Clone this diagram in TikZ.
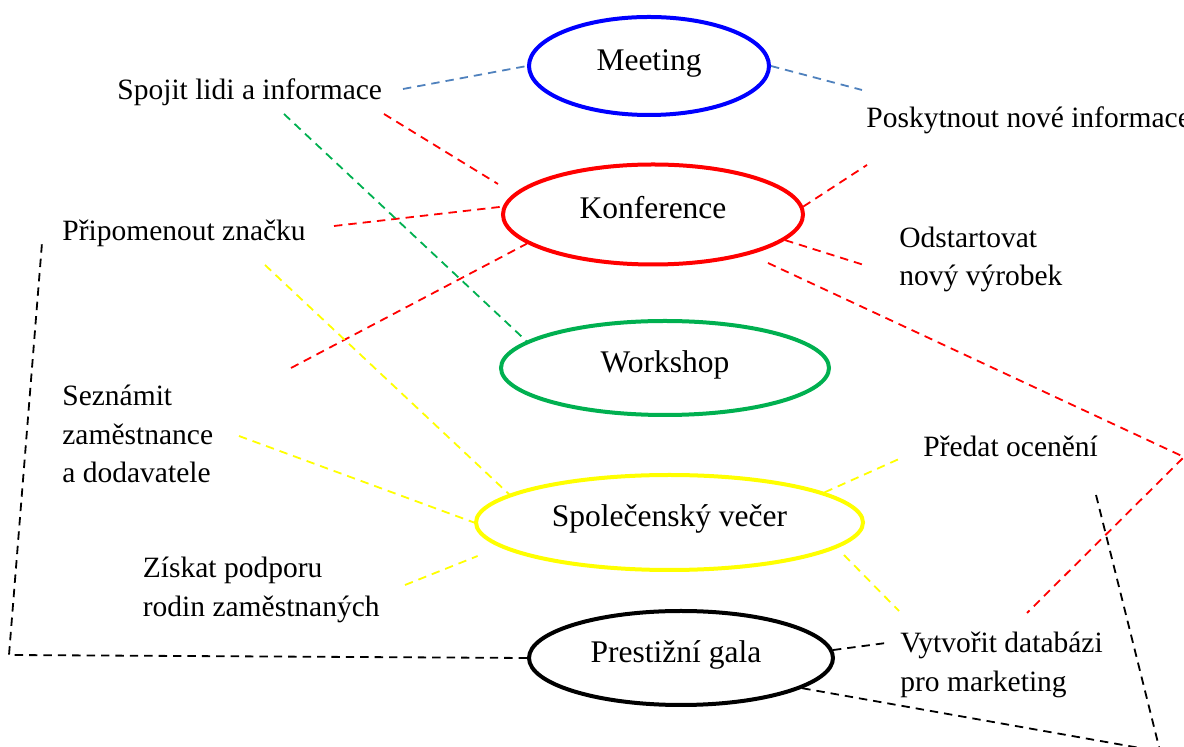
\documentclass[tikz,border=0pt]{standalone}
\usepackage{fontspec}
\setmainfont{Liberation Serif}
\usetikzlibrary{shapes.geometric}
\definecolor{lineblue}{HTML}{4F81BD}
\definecolor{wgreen}{HTML}{00B050}
\definecolor{ylw}{HTML}{FFFF00}
\begin{document}
\begin{tikzpicture}[x=0.5pt,y=-0.5pt,
  evt/.style={ellipse, draw, line width=2pt, font=\fontsize{15.75}{19}\selectfont,
    text height=11pt, text depth=6.8pt, inner sep=0pt},
  lbl/.style={font=\fontsize{14.75}{19.3}\selectfont, anchor=base west, inner sep=0pt, align=left},
  con/.style={line width=0.9pt, dash pattern=on 4.2pt off 3pt},
]
\useasboundingbox (0,0) rectangle (1184,747);
\clip (0,0) rectangle (1184,747);

% events
\node[evt, draw=blue, minimum width=120pt, minimum height=49pt] (meet) at (649,66) {Meeting};
\node[evt, draw=red, minimum width=150pt, minimum height=50pt] (konf) at (653,214.5) {Konference};
\node[evt, draw=wgreen, minimum width=164pt, minimum height=47pt] (work) at (665,368) {Workshop};
\node[evt, draw=ylw, minimum width=193.5pt, minimum height=47.5pt] (spol) at (669.5,522.5) {Společenský večer};
\node[evt, draw=black, minimum width=152pt, minimum height=47pt] (gala) at (681,658) {\hspace*{-5pt}Prestižní gala};

% labels (anchor = baseline of the last line)
\node[lbl] (spojit) at (117,100) {Spojit lidi a informace};
\node[lbl] (posk) at (866,128) {Poskytnout nové informace};
\node[lbl] (pripo) at (62,240.5) {Připomenout značku};
\node[lbl] (odst) at (899,286) {Odstartovat\\nový výrobek};
\node[lbl] (sezn) at (62,483) {Seznámit\\zaměstnance\\a dodavatele};
\node[lbl] (ziskat) at (142.5,616.5) {Získat podporu\\rodin zaměstnaných};
\node[lbl] (predat) at (923,456.7) {Předat ocenění};
\node[lbl] (vytv) at (900,691.5) {Vytvořit databázi\\pro marketing};

% free ends
\coordinate (p1) at (403,89);
\coordinate (p2) at (862,90);
\coordinate (r3a) at (384,114);
\coordinate (r3b) at (498,184);
\coordinate (r4) at (334,226);
\coordinate (r5) at (291,368);
\coordinate (r6) at (867,165);
\coordinate (r7) at (864,265);
\coordinate (r8a) at (768,263);
\coordinate (r8b) at (1184,457);
\coordinate (r8c) at (1027,613);
\coordinate (g9) at (284,114);
\coordinate (y10) at (265,265);
\coordinate (y11) at (239,436);
\coordinate (y12a) at (405,585);
\coordinate (y12b) at (477.6,556);
\coordinate (y13) at (899,459);
\coordinate (y14a) at (844,555);
\coordinate (y14b) at (899,611);
\coordinate (k15a) at (9,655);
\coordinate (k15b) at (42,243);
\coordinate (k16) at (886,643);
\coordinate (k17) at (1140,748);
\coordinate (k18a) at (1096,495);
\coordinate (k18b) at (1159,747);

% connectors
\draw[con, lineblue] (p1) -- (meet.west);
\draw[con, lineblue] (meet.east) -- (p2);

\draw[con, red] (r3a) -- (r3b);
\draw[con, red] (r4) -- (konf.177);
\draw[con, red] (r5) -- (konf.193);
\draw[con, red] (konf.3) -- (r6);
\draw[con, red] (konf.-11) -- (r7);
\draw[con, red] (r8a) -- (r8b) -- (r8c);

\draw[con, wgreen] (g9) -- (work.169);

\draw[con, ylw] (y10) -- (spol.170);
\draw[con, ylw] (y11) -- (spol.west);
\draw[con, ylw] (y12a) -- (y12b);
\draw[con, ylw] (spol.11) -- (y13);
\draw[con, ylw] (y14a) -- (y14b);

\draw[con, black] (gala.west) -- (k15a) -- (k15b);
\draw[con, black] (gala.3) -- (k16);
\draw[con, black] (gala.-14) -- (k17);
\draw[con, black] (k18a) -- (k18b);
\end{tikzpicture}
\end{document}
